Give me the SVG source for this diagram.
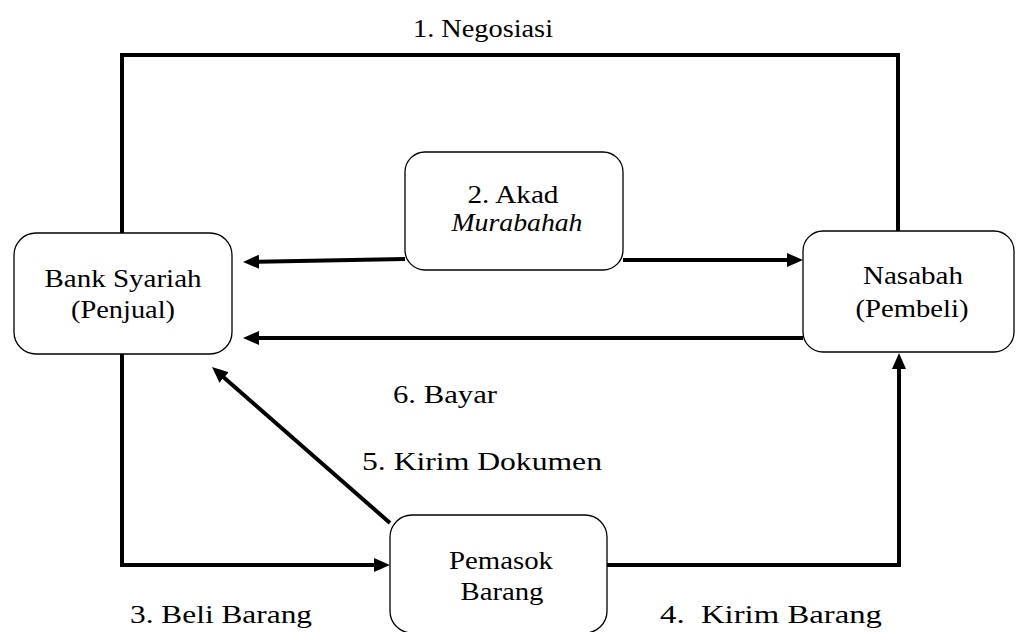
<svg xmlns="http://www.w3.org/2000/svg" width="1016" height="632" viewBox="0 0 1016 632">
<style>
.box{fill:#fff;stroke:#000;stroke-width:1.3}
text{font-family:'Liberation Serif','Times New Roman','DejaVu Serif',serif;font-size:26px;fill:#000}
.c{text-anchor:middle}
.con{fill:none;stroke:#000;stroke-width:4;stroke-linejoin:miter}
</style>
<defs>
<marker id="ah" viewBox="0 0 16 14" markerWidth="16" markerHeight="14" markerUnits="userSpaceOnUse" refX="1" refY="7" orient="auto">
<path d="M0,0 L16,7 L0,14 z" fill="#000"/>
</marker>
</defs>
<rect width="1016" height="632" fill="#fff"/>
<g id="connectors">
<path class="con" d="M122,233 V55 H898 V231"/>
<path class="con" d="M405,259 L258,261.7" marker-end="url(#ah)"/>
<path class="con" d="M623,260 H788" marker-end="url(#ah)"/>
<path class="con" d="M803,338 H258" marker-end="url(#ah)"/>
<path class="con" d="M122,354 V565 H375" marker-end="url(#ah)"/>
<path class="con" d="M607,565 H899 V368" marker-end="url(#ah)"/>
<path class="con" d="M390,523 L223.3,376.9" marker-end="url(#ah)"/>
</g>
<g id="labels">
<text x="413" y="37" font-size="27" textLength="140" lengthAdjust="spacingAndGlyphs">1. Negosiasi</text>
<text x="393" y="403" font-size="28" textLength="104" lengthAdjust="spacingAndGlyphs">6. Bayar</text>
<text x="362" y="470" font-size="29" textLength="240" lengthAdjust="spacingAndGlyphs">5. Kirim Dokumen</text>
<text x="130" y="623" font-size="28" textLength="182" lengthAdjust="spacingAndGlyphs">3. Beli Barang</text>
<text x="660" y="623" font-size="28" textLength="222" lengthAdjust="spacingAndGlyphs" style="white-space:pre" xml:space="preserve">4.  Kirim Barang</text>
</g>
<g id="node-bank">
<rect class="box" x="14" y="233" width="218" height="121" rx="22"/>
<text class="c" x="123" y="287" textLength="157" lengthAdjust="spacingAndGlyphs">Bank Syariah</text>
<text class="c" x="123" y="318" textLength="104" lengthAdjust="spacingAndGlyphs">(Penjual)</text>
</g>
<g id="node-akad">
<rect class="box" x="405" y="152" width="218" height="118" rx="20"/>
<text class="c" x="513" y="203" font-size="25" textLength="91" lengthAdjust="spacingAndGlyphs">2. Akad</text>
<text class="c" x="517" y="231" font-size="25" font-style="italic" textLength="131" lengthAdjust="spacingAndGlyphs">Murabahah</text>
</g>
<g id="node-nasabah">
<rect class="box" x="803" y="231" width="211" height="121" rx="20"/>
<text class="c" x="913" y="284" textLength="100" lengthAdjust="spacingAndGlyphs">Nasabah</text>
<text class="c" x="912" y="317" textLength="113" lengthAdjust="spacingAndGlyphs">(Pembeli)</text>
</g>
<g id="node-pemasok">
<rect class="box" x="390" y="515" width="217" height="118" rx="22"/>
<text class="c" x="501" y="569" textLength="104" lengthAdjust="spacingAndGlyphs">Pemasok</text>
<text class="c" x="502" y="600" textLength="83" lengthAdjust="spacingAndGlyphs">Barang</text>
</g>
</svg>
